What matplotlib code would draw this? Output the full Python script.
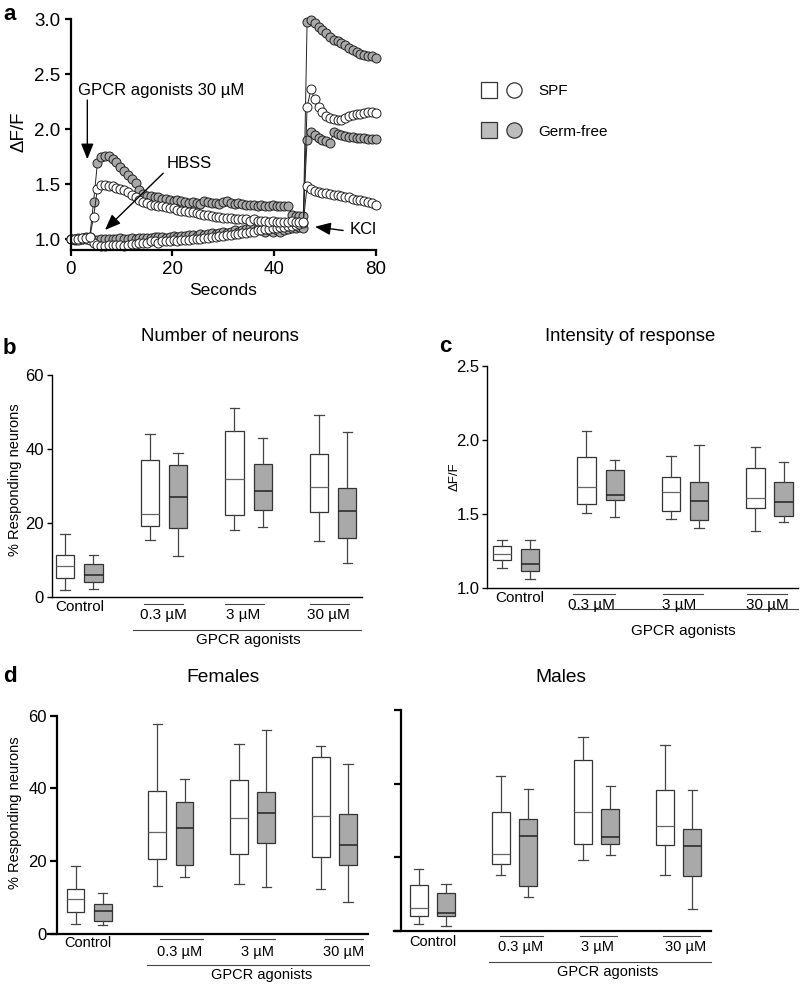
import numpy as np
import matplotlib
matplotlib.use('Agg')
import matplotlib.pyplot as plt
from matplotlib.lines import Line2D
from matplotlib.legend_handler import HandlerTuple
from matplotlib.transforms import offset_copy

plt.rcParams['font.family'] = ['Liberation Sans', 'DejaVu Sans']

# ---------------- data ----------------
# panel a: calcium traces, one sample per frame
sec_ticks = [0, 20, 40, 60]
sec_labels = ['0', '20', '40', '80']
t = np.arange(81) * 0.75

gf_resp = [1.00, 1.00, 1.01, 1.01, 1.02, 1.02,
           1.34, 1.69, 1.75, 1.76, 1.76, 1.73, 1.70, 1.66, 1.62, 1.58, 1.55, 1.51, 1.45, 1.41, 1.39,
           1.39, 1.38, 1.38, 1.37, 1.37, 1.36, 1.35, 1.36, 1.35, 1.34, 1.33, 1.34, 1.33, 1.32, 1.35,
           1.34, 1.33, 1.33, 1.32, 1.34,
           1.35, 1.33, 1.32, 1.33, 1.32, 1.31, 1.31, 1.31, 1.30, 1.31, 1.30, 1.30, 1.31, 1.30, 1.30,
           1.30, 1.30, 1.22, 1.21, 1.21, 1.21,
           1.90, 1.97, 1.95, 1.92, 1.90, 1.89, 1.87, 1.97, 1.96, 1.95, 1.94, 1.93, 1.93, 1.92, 1.92,
           1.92, 1.91, 1.91, 1.91]
gf_kcl = [1.00, 0.99, 1.00, 1.00, 1.01, 1.00, 0.99, 0.99, 1.00, 1.00, 1.00, 1.00, 1.00, 1.01,
          1.00, 1.00, 1.01, 1.00, 1.01, 1.01, 1.01,
          1.01, 1.02, 1.02, 1.02, 1.01, 1.02, 1.03, 1.02, 1.03, 1.03, 1.04, 1.04, 1.03, 1.05, 1.04,
          1.05, 1.06, 1.05, 1.06, 1.07,
          1.06, 1.07, 1.08, 1.07, 1.08, 1.09, 1.10, 1.11, 1.10, 1.08, 1.07, 1.08, 1.07, 1.08, 1.07,
          1.08, 1.09, 1.10, 1.10, 1.11, 1.10,
          2.97, 2.99, 2.96, 2.93, 2.90, 2.87, 2.84, 2.81, 2.80, 2.78, 2.76, 2.74, 2.72, 2.70, 2.68,
          2.67, 2.66, 2.66, 2.65]
spf_resp = [1.00, 1.00, 1.00, 1.01, 1.01, 1.02,
            1.20, 1.46, 1.49, 1.49, 1.48, 1.48, 1.47, 1.46, 1.45, 1.43, 1.40, 1.38, 1.36, 1.34, 1.33,
            1.31, 1.31, 1.30, 1.30, 1.29, 1.28, 1.28, 1.27, 1.26, 1.26, 1.25, 1.25, 1.24, 1.23, 1.22,
            1.22, 1.21, 1.20, 1.20, 1.19,
            1.19, 1.19, 1.18, 1.18, 1.18, 1.18, 1.17, 1.18, 1.17, 1.17, 1.17, 1.16, 1.17, 1.16, 1.16,
            1.16, 1.16, 1.17, 1.16, 1.16, 1.16,
            1.48, 1.46, 1.44, 1.43, 1.42, 1.42, 1.41, 1.40, 1.40, 1.39, 1.38, 1.38, 1.37, 1.36, 1.36,
            1.35, 1.34, 1.33, 1.31]
spf_kcl = [1.00, 1.00, 0.99, 1.00, 1.00, 0.99, 0.97,
           0.95, 0.94, 0.94, 0.95, 0.95, 0.95, 0.95, 0.94, 0.95,
           0.96, 0.96, 0.97, 0.97, 0.97, 0.98, 0.98, 0.97, 0.98, 0.98, 0.98, 0.99, 0.98, 0.99, 0.99,
           0.99, 1.00, 1.00, 1.00, 1.01, 1.01, 1.02, 1.02, 1.03, 1.03, 1.04, 1.04, 1.05, 1.05, 1.06,
           1.06, 1.07, 1.07, 1.08, 1.08, 1.09, 1.09, 1.10, 1.10, 1.11, 1.11, 1.12, 1.12, 1.13, 1.14,
           1.15,
           2.20, 2.36, 2.27, 2.20, 2.16, 2.12, 2.10, 2.09, 2.08, 2.08, 2.10, 2.12, 2.13, 2.14, 2.14,
           2.15, 2.16, 2.16, 2.15]

# box plots: order = Control SPF, Control GF, 0.3 SPF, 0.3 GF, 3 SPF, 3 GF, 30 SPF, 30 GF
groups = ['0.3 µM', '3 µM', '30 µM']

nb_lo = [2.1, 2.2, 15.5, 11.1, 18.1, 19.1, 15.1, 9.2]
nb_q1 = [5.2, 4.1, 19.2, 18.6, 22.2, 23.5, 23.1, 16.1]
nb_med = [8.5, 5.9, 22.4, 27.2, 32.0, 28.6, 29.9, 23.2]
nb_q3 = [11.4, 9.1, 37.1, 35.6, 45.0, 35.9, 38.6, 29.4]
nb_hi = [17.0, 11.4, 44.1, 39.0, 51.2, 43.0, 49.3, 44.6]

it_lo = [1.133, 1.059, 1.507, 1.475, 1.464, 1.401, 1.383, 1.444]
it_q1 = [1.187, 1.113, 1.565, 1.590, 1.518, 1.457, 1.538, 1.484]
it_med = [1.230, 1.160, 1.680, 1.624, 1.646, 1.586, 1.608, 1.581]
it_q3 = [1.282, 1.264, 1.883, 1.795, 1.748, 1.714, 1.809, 1.714]
it_hi = [1.324, 1.324, 2.061, 1.867, 1.894, 1.966, 1.955, 1.851]

fe_lo = [2.6, 2.5, 13.1, 15.7, 13.8, 12.8, 12.3, 8.7]
fe_q1 = [6.1, 3.4, 20.6, 18.8, 21.8, 25.0, 21.0, 19.0]
fe_med = [9.5, 6.2, 28.1, 29.0, 31.8, 33.2, 32.3, 24.3]
fe_q3 = [12.3, 8.3, 39.4, 36.2, 42.4, 38.9, 48.5, 32.9]
fe_hi = [18.5, 11.2, 57.8, 42.5, 52.1, 56.2, 51.7, 46.8]

ma_lo = [1.9, 1.4, 15.3, 9.3, 19.4, 20.7, 15.2, 6.1]
ma_q1 = [4.0, 4.2, 18.1, 12.1, 23.6, 23.6, 23.4, 14.8]
ma_med = [6.2, 5.0, 21.0, 25.8, 32.2, 25.4, 28.5, 23.2]
ma_q3 = [12.4, 10.2, 32.4, 30.5, 46.5, 33.1, 38.4, 27.6]
ma_hi = [16.7, 12.7, 42.1, 38.6, 52.8, 39.4, 50.5, 38.4]

# ---------------- style ----------------
GREY = '#a9a9a9'
EDGE = '#333333'
POS = [1, 2, 4, 5, 7, 8, 10, 11]
W, H = 800, 985

fig = plt.figure(figsize=(8, 9.85), dpi=100)


def px_rect(x0, y0, x1, y1):
    return [x0 / W, 1 - y1 / H, (x1 - x0) / W, (y1 - y0) / H]


def ftext(x, y, s, **kw):
    fig.text(x / W, 1 - y / H, s, ha=kw.pop('ha', 'center'), va=kw.pop('va', 'center'), **kw)


# ---------------- panel a ----------------
axa = fig.add_axes(px_rect(70.7, 19, 375.7, 250.3))
for y, fc in [(gf_kcl, GREY), (gf_resp, GREY), (spf_kcl, 'white'), (spf_resp, 'white')]:
    axa.plot(t, y, '-', color='#222222', lw=0.7, marker='o', ms=6.5, mfc=fc, mec='#222222',
             mew=0.7, clip_on=False)
axa.set_xlim(0, 60)
axa.set_ylim(0.9, 3.0)
axa.set_xticks(sec_ticks)
axa.set_xticklabels(sec_labels)
axa.set_yticks([1.0, 1.5, 2.0, 2.5, 3.0])
axa.set_yticklabels(['1.0', '1.5', '2.0', '2.5', '3.0'])
for s in ['top', 'right']:
    axa.spines[s].set_visible(False)
for s in ['left', 'bottom']:
    axa.spines[s].set_linewidth(1.6)
axa.tick_params(width=1.6, length=4.5, labelsize=13.5, pad=3)
axa.set_xlabel('Seconds', fontsize=12.5, labelpad=4)
ftext(19, 132, 'ΔF/F', rotation=90, fontsize=13.5)

arrow = dict(arrowstyle='-|>,head_width=0.38,head_length=0.95', color='black', lw=1.0,
             shrinkA=0, shrinkB=0)
axa.annotate('', xy=(3.27, 1.726), xytext=(3.27, 2.264), arrowprops=arrow)
axa.text(1.44, 2.355, 'GPCR agonists 30 µM', fontsize=12, va='center', ha='left')
axa.annotate('', xy=(6.75, 1.085), xytext=(18.2, 1.60), arrowprops=arrow)
axa.text(23.3, 1.69, 'HBSS', fontsize=12, va='center', ha='center')
axa.annotate('', xy=(48.06, 1.114), xytext=(53.6, 1.08), arrowprops=arrow)
axa.text(54.95, 1.085, 'KCl', fontsize=12, va='center', ha='left')

# legend
h_spf = (Line2D([], [], ls='none', marker='s', ms=11.5, mfc='white', mec=EDGE, mew=0.9),
         Line2D([], [], ls='none', marker='o', ms=11, mfc='white', mec=EDGE, mew=0.9))
h_gf = (Line2D([], [], ls='none', marker='s', ms=11.5, mfc='#bdbdbd', mec=EDGE, mew=0.9),
        Line2D([], [], ls='none', marker='o', ms=11, mfc='#bdbdbd', mec=EDGE, mew=0.9))
fig.legend([h_spf, h_gf], ['SPF', 'Germ-free'], handler_map={tuple: HandlerTuple(ndivide=None, pad=0.5)},
           loc='upper left', bbox_to_anchor=(480 / W, 1 - 84 / H), frameon=False, fontsize=11,
           handlelength=2.8, handletextpad=1.0, labelspacing=1.75, borderpad=0, borderaxespad=0)


# ---------------- box panels ----------------
def draw_boxes(ax, lo, q1, med, q3, hi):
    stats = [dict(whislo=a, q1=b, med=c, q3=d, whishi=e, fliers=[])
             for a, b, c, d, e in zip(lo, q1, med, q3, hi)]
    art = ax.bxp(stats, positions=POS, widths=0.65, capwidths=0.34, patch_artist=True,
                 showfliers=False, manage_ticks=False,
                 boxprops=dict(edgecolor=EDGE, linewidth=0.9),
                 whiskerprops=dict(color='#444444', linewidth=0.9),
                 capprops=dict(color='#444444', linewidth=0.9),
                 medianprops=dict(color='#333333', linewidth=0.9))
    for k, box in enumerate(art['boxes']):
        box.set_facecolor('white' if k % 2 == 0 else GREY)
    for k, m in enumerate(art['medians']):
        m.set_color('#666666' if k % 2 == 0 else '#222222')
        m.set_linewidth(0.9 if k % 2 == 0 else 1.1)


def style_box_axes(ax, lw, ticks, labels, tick_len):
    for s in ['top', 'right']:
        ax.spines[s].set_visible(False)
    for s in ['left', 'bottom']:
        ax.spines[s].set_linewidth(lw)
    ax.set_xticks([])
    ax.set_yticks(ticks)
    if labels is None:
        ax.set_yticklabels([])
    else:
        ax.set_yticklabels(labels)
    ax.tick_params(axis='y', width=lw, length=tick_len, labelsize=12, pad=2)


def under_labels(ax, ctrl, lab_x, lab_dy, bars, bar_dy, long_span, long_dy, gpcr, fs):
    def tr(dy):
        return offset_copy(ax.get_xaxis_transform(), fig=fig, y=-dy, units='dots')
    ax.text(ctrl[0], 0, 'Control', transform=tr(ctrl[1]), ha='center', va='center',
            fontsize=fs)
    for x, g in zip(lab_x, groups):
        ax.text(x, 0, g, transform=tr(lab_dy), ha='center', va='center', fontsize=fs)
    for x0, x1 in bars:
        ax.plot([x0, x1], [0, 0], color='#444444', lw=0.8, transform=tr(bar_dy), clip_on=False)
    ax.plot(long_span, [0, 0], color='#444444', lw=0.8, transform=tr(long_dy), clip_on=False)
    ax.text(gpcr[0], 0, 'GPCR agonists', transform=tr(gpcr[1]), ha='center', va='center',
            fontsize=fs)


# panel b
axb = fig.add_axes(px_rect(51.7, 375, 361.7, 597.3))
draw_boxes(axb, nb_lo, nb_q1, nb_med, nb_q3, nb_hi)
axb.set_xlim(0.52, 11.51)
axb.set_ylim(0, 60)
style_box_axes(axb, 1.0, [0, 20, 40, 60], ['0', '20', '40', '60'], 3.5)
under_labels(axb, (1.52, 10), [4.48, 7.32, 10.33], 17.7,
             [(3.79, 5.17), (6.67, 8.05), (9.68, 11.06)], 6.7, (3.4, 11.5), 32.7, (7.48, 42.7), 11)
ftext(220, 337, 'Number of neurons', fontsize=13.3)
ftext(15, 480, '% Responding neurons', rotation=90, fontsize=10.5)
ftext(3, 348, 'b', ha='left', fontsize=16, fontweight='bold')

# panel c
axc = fig.add_axes(px_rect(487.3, 366, 798, 587.7))
draw_boxes(axc, it_lo, it_q1, it_med, it_q3, it_hi)
axc.set_xlim(0.478, 11.51)
axc.set_ylim(1.0, 2.5)
style_box_axes(axc, 1.0, [1.0, 1.5, 2.0, 2.5], ['1.0', '1.5', '2.0', '2.5'], 3.5)
under_labels(axc, (1.64, 10.6), [4.19, 7.29, 10.43], 17.3,
             [(3.51, 5.01), (6.73, 8.13), (9.69, 11.11)], 6.3, (3.48, 11.5), 21, (7.43, 43), 11)
ftext(630, 337, 'Intensity of response', fontsize=13.3)
ftext(455, 477, 'ΔF/F', rotation=90, fontsize=9.5)
ftext(439, 347, 'c', ha='left', fontsize=16, fontweight='bold')

# panel d, females
axd1 = fig.add_axes(px_rect(48, 715.7, 367.7, 933.7))
draw_boxes(axd1, fe_lo, fe_q1, fe_med, fe_q3, fe_hi)
axd1.set_xlim(-0.01, 11.72)
axd1.set_ylim(0, 60)
axd1.spines['left'].set_position(('data', 0.31))
style_box_axes(axd1, 1.6, [0, 20, 40, 60], ['0', '20', '40', '60'], 5)
under_labels(axd1, (1.47, 9), [4.83, 7.68, 10.85], 18,
             [(4.10, 5.69), (7.04, 8.32), (10.16, 11.56)], 5.3, (3.61, 11.75), 31.3, (7.81, 41.3),
             10.5)
ftext(223, 678, 'Females', fontsize=13.8)
ftext(15, 813, '% Responding neurons', rotation=90, fontsize=10.5)
ftext(3, 676, 'd', ha='left', fontsize=16, fontweight='bold')

# panel d, males
axd2 = fig.add_axes(px_rect(394, 710, 710.7, 931))
draw_boxes(axd2, ma_lo, ma_q1, ma_med, ma_q3, ma_hi)
axd2.set_xlim(0.097, 11.67)
axd2.set_ylim(0, 60)
axd2.spines['left'].set_position(('data', 0.342))
style_box_axes(axd2, 1.6, [0, 20, 40, 60], None, 5)
under_labels(axd2, (1.53, 10.7), [4.72, 7.55, 10.74], 15.7,
             [(3.97, 5.55), (6.90, 8.24), (9.94, 11.29)], 4.7, (3.57, 11.67), 30.7, (7.92, 40.7),
             10.5)
ftext(561, 678, 'Males', fontsize=13.8)

ftext(3, 14, 'a', ha='left', fontsize=16, fontweight='bold')

fig.savefig('out.png', dpi=100)
